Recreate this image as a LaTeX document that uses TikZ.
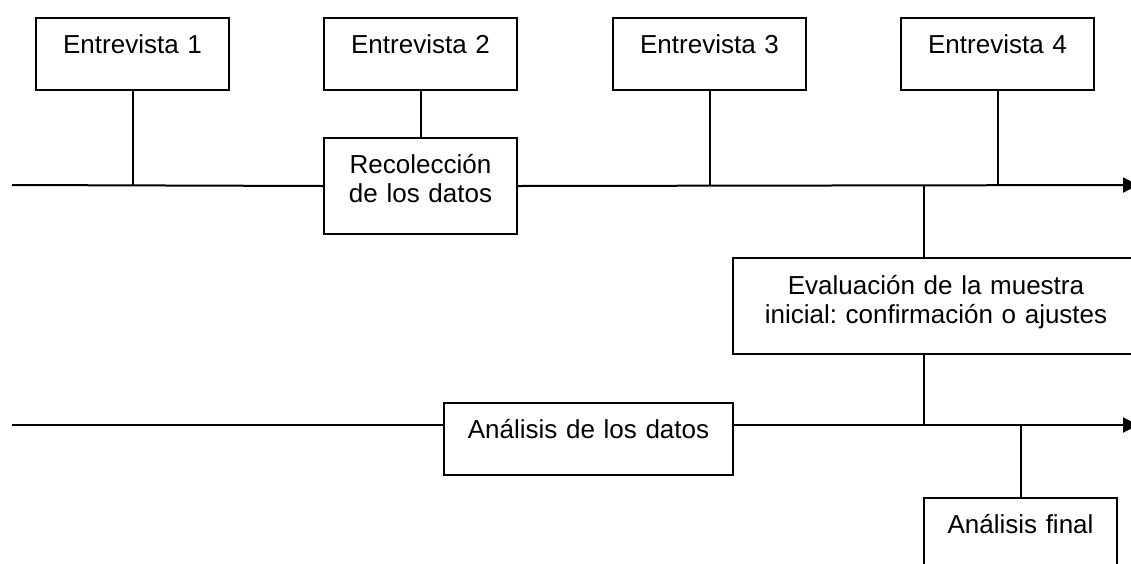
\documentclass[tikz,border=0pt]{standalone}
\usepackage{fontspec}
\setmainfont{Liberation Sans}
\usetikzlibrary{arrows.meta}
\frenchspacing
\begin{document}
\begin{tikzpicture}[x=1pt,y=-1pt,
  box/.style={draw=black, line width=2pt, fill=white, minimum width=193pt, minimum height=72pt, inner sep=0pt, anchor=north west},
  txt/.style={anchor=base, font=\fontsize{26}{29}\selectfont, text width=420pt, align=center, inner sep=0pt},
  conn/.style={line width=2pt},
  axis/.style={line width=2pt, -{Triangle[length=15pt,width=15pt]}}]
\useasboundingbox (0,0) rectangle (1131,563);
\clip (0,0) rectangle (1131,563);
% time lines anchors
\coordinate (L1s) at (12,185);
\coordinate (L1e) at (1138,185);
\coordinate (L2s) at (12,425);
\coordinate (L2e) at (1138,425);
\coordinate (J1) at (924,185);
% boxes
\node[box] (E1) at (35,17) {};
\node[box] (E2) at (323,17) {};
\node[box] (E3) at (612,17) {};
\node[box] (E4) at (900,17) {};
\node[box, minimum height=96pt] (Rec) at (323,137) {};
\node[box, minimum width=406pt, minimum height=96pt] (Ev) at (732,257) {};
\node[box, minimum width=289pt] (An) at (443,402) {};
\node[box] (Fin) at (923,497) {};
% texts
\node[txt] (E1t) at ([yshift=-36pt]E1.north) {Entrevista 1};
\node[txt] (E2t) at ([yshift=-36pt]E2.north) {Entrevista 2};
\node[txt] (E3t) at ([yshift=-36pt]E3.north) {Entrevista 3};
\node[txt] (E4t) at ([yshift=-36pt]E4.north) {Entrevista 4};
\node[txt] (Rect) at ([yshift=-36pt]Rec.north) {Recolección\\de los datos};
\node[txt] (Evt) at ([yshift=-37pt]Ev.north) {Evaluación de la muestra\\inicial: confirmación o ajustes};
\node[txt] (Ant) at ([yshift=-36pt]An.north) {Análisis de los datos};
\node[txt] (Fint) at ([yshift=-36pt]Fin.north) {Análisis final};
% connectors
\draw[conn] (L1s) -- (Rec.west);
\draw[axis] (Rec.east) -- (L1e);
\draw[conn] (E1.south) -- (E1.south |- L1s);
\draw[conn] (E2.south) -- (Rec.north);
\draw[conn] (E3.south) -- (E3.south |- L1s);
\draw[conn] (E4.south) -- (E4.south |- L1s);
\draw[conn] (J1) -- (J1 |- Ev.north);
\draw[conn] (J1 |- Ev.south) -- (J1 |- L2s);
\draw[conn] (L2s) -- (An.west |- L2s);
\draw[axis] (An.east |- L2s) -- (L2e);
\draw[conn] (Fin.north |- L2s) -- (Fin.north);
\end{tikzpicture}
\end{document}
